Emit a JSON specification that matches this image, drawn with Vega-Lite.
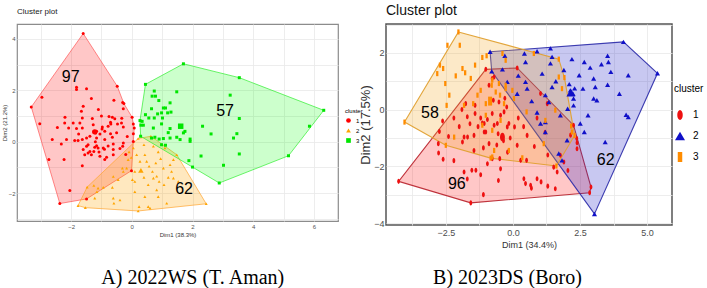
{
  "$schema": "https://vega.github.io/schema/vega-lite/v6.json",
  "background": "white",
  "padding": {"left": 0, "top": 3, "right": 0, "bottom": 0},
  "spacing": -5,
  "config": {
    "font": "Liberation Sans",
    "axis": {"ticks": false, "domain": false, "gridColor": "#e9e9e9", "gridWidth": 0.8, "titleFontWeight": "normal", "minExtent": 0},
    "legend": {"titleFontWeight": "normal"}
  },
  "datasets": {
    "ptsA": [
      {"x":-1.82,"y":2.12,"c":"1"},{"x":-1.82,"y":2.03,"c":"1"},{"x":-1.49,"y":2.06,"c":"1"},{"x":-2.96,"y":1.73,"c":"1"},{"x":-1.33,"y":1.68,"c":"1"},
      {"x":-0.59,"y":1.61,"c":"1"},{"x":-0.30,"y":1.52,"c":"1"},{"x":-0.28,"y":1.28,"c":"1"},{"x":-3.31,"y":1.35,"c":"1"},{"x":-1.60,"y":1.38,"c":"1"},
      {"x":-1.66,"y":1.18,"c":"1"},{"x":-2.20,"y":0.95,"c":"1"},{"x":-1.63,"y":0.92,"c":"1"},{"x":-0.75,"y":0.98,"c":"1"},{"x":-0.64,"y":0.95,"c":"1"},
      {"x":-0.56,"y":0.89,"c":"1"},{"x":-0.33,"y":0.91,"c":"1"},{"x":-1.93,"y":0.73,"c":"1"},{"x":-2.21,"y":0.73,"c":"1"},{"x":-2.08,"y":0.53,"c":"1"},
      {"x":-1.71,"y":0.73,"c":"1"},{"x":-1.27,"y":0.66,"c":"1"},{"x":-1.16,"y":0.40,"c":"1"},{"x":-0.97,"y":0.57,"c":"1"},{"x":-0.98,"y":0.49,"c":"1"},
      {"x":-0.78,"y":0.60,"c":"1"},{"x":-0.69,"y":0.69,"c":"1"},{"x":-0.47,"y":0.69,"c":"1"},{"x":-0.34,"y":0.73,"c":"1"},{"x":-0.28,"y":0.57,"c":"1"},
      {"x":0.01,"y":0.95,"c":"1"},{"x":0.05,"y":0.69,"c":"1"},{"x":-3.03,"y":0.70,"c":"1"},{"x":-1.82,"y":0.51,"c":"1"},{"x":-1.63,"y":0.53,"c":"1"},
      {"x":-1.38,"y":0.21,"c":"1"},{"x":-1.19,"y":0.34,"c":"1"},{"x":-1.05,"y":0.30,"c":"1"},{"x":-0.89,"y":0.40,"c":"1"},{"x":-0.70,"y":0.31,"c":"1"},
      {"x":-0.64,"y":0.17,"c":"1"},{"x":-0.89,"y":0.08,"c":"1"},{"x":-1.16,"y":0.14,"c":"1"},{"x":-1.49,"y":0.14,"c":"1"},{"x":-1.88,"y":0.04,"c":"1"},
      {"x":-1.77,"y":0.04,"c":"1"},{"x":-1.63,"y":0.08,"c":"1"},{"x":-2.15,"y":0.08,"c":"1"},{"x":-2.32,"y":-0.09,"c":"1"},{"x":-2.62,"y":0.08,"c":"1"},
      {"x":-1.44,"y":-0.12,"c":"1"},{"x":-1.49,"y":-0.18,"c":"1"},{"x":-1.22,"y":-0.22,"c":"1"},{"x":-1.16,"y":-0.16,"c":"1"},{"x":-1.11,"y":-0.25,"c":"1"},
      {"x":-0.94,"y":-0.25,"c":"1"},{"x":-0.78,"y":-0.17,"c":"1"},{"x":-0.61,"y":-0.09,"c":"1"},{"x":-0.61,"y":-0.31,"c":"1"},{"x":-0.39,"y":-0.27,"c":"1"},
      {"x":-0.30,"y":-0.18,"c":"1"},{"x":-0.28,"y":-0.05,"c":"1"},{"x":0.05,"y":0.01,"c":"1"},{"x":-1.60,"y":-0.31,"c":"1"},{"x":-1.38,"y":-0.38,"c":"1"},
      {"x":-1.33,"y":-0.51,"c":"1"},{"x":-1.55,"y":-0.51,"c":"1"},{"x":-1.05,"y":-0.57,"c":"1"},{"x":-0.83,"y":-0.61,"c":"1"},{"x":-0.61,"y":-0.51,"c":"1"},
      {"x":-0.89,"y":-0.70,"c":"1"},{"x":-2.73,"y":-0.70,"c":"1"},{"x":-2.23,"y":-0.70,"c":"1"},{"x":-1.63,"y":-0.94,"c":"1"},{"x":-2.04,"y":-1.90,"c":"1"},
      {"x":-1.44,"y":-0.44,"c":"1"},{"x":-1.25,"y":-0.38,"c":"1"},{"x":-1.08,"y":-0.40,"c":"1"},{"x":0.05,"y":0.31,"c":"1"},{"x":0.08,"y":0.53,"c":"1"},
      {"x":-1.60,"y":4.21,"c":"1"},{"x":-0.48,"y":2.16,"c":"1"},{"x":-0.26,"y":1.48,"c":"1"},{"x":-0.01,"y":-1.13,"c":"1"},{"x":-1.49,"y":-2.23,"c":"1"},
      {"x":-2.37,"y":-2.41,"c":"1"},{"x":-1.2,"y":0.0,"c":"1"},{"x":-0.9,"y":-0.3,"c":"1"},{"x":-0.5,"y":0.35,"c":"1"},{"x":-1.3,"y":0.9,"c":"1"},
      {"x":-0.15,"y":0.2,"c":"1"},{"x":-1.0,"y":1.0,"c":"1"},{"x":-2.45,"y":0.55,"c":"1"},{"x":-0.2,"y":-0.5,"c":"1"},{"x":-1.75,"y":0.3,"c":"1"},
      {"x":-0.7,"y":0.75,"c":"1"},{"x":-1.1,"y":1.25,"c":"1"},
      {"x":-1.77,"y":-2.49,"c":"2"},{"x":-1.53,"y":-2.57,"c":"2"},{"x":-1.47,"y":-1.77,"c":"2"},{"x":-1.25,"y":-1.71,"c":"2"},{"x":-1.11,"y":-1.81,"c":"2"},
      {"x":-1.22,"y":-2.20,"c":"2"},{"x":-0.64,"y":-1.78,"c":"2"},{"x":-0.59,"y":-2.40,"c":"2"},{"x":0.05,"y":-0.25,"c":"2"},{"x":-0.12,"y":-0.70,"c":"2"},
      {"x":-0.31,"y":-1.03,"c":"2"},{"x":-0.17,"y":-1.03,"c":"2"},{"x":-0.09,"y":-0.40,"c":"2"},{"x":-0.02,"y":-0.62,"c":"2"},{"x":0.10,"y":-1.16,"c":"2"},
      {"x":0.40,"y":-1.39,"c":"2"},{"x":0.43,"y":-0.51,"c":"2"},{"x":0.49,"y":-0.77,"c":"2"},{"x":0.57,"y":-0.96,"c":"2"},{"x":0.68,"y":-1.16,"c":"2"},
      {"x":0.71,"y":-1.42,"c":"2"},{"x":0.79,"y":-0.83,"c":"2"},{"x":0.82,"y":-1.35,"c":"2"},{"x":0.87,"y":-0.40,"c":"2"},{"x":0.90,"y":-1.55,"c":"2"},
      {"x":0.95,"y":-0.66,"c":"2"},{"x":1.04,"y":-1.03,"c":"2"},{"x":1.06,"y":-1.68,"c":"2"},{"x":1.20,"y":-1.39,"c":"2"},{"x":1.26,"y":-0.90,"c":"2"},
      {"x":1.31,"y":-1.16,"c":"2"},{"x":1.37,"y":-0.70,"c":"2"},{"x":0.82,"y":-1.88,"c":"2"},{"x":0.43,"y":-2.14,"c":"2"},{"x":0.87,"y":-2.14,"c":"2"},
      {"x":0.54,"y":-2.53,"c":"2"},{"x":0.24,"y":-2.53,"c":"2"},{"x":1.15,"y":-2.40,"c":"2"},{"x":1.53,"y":-1.55,"c":"2"},{"x":1.37,"y":-1.42,"c":"2"},
      {"x":-0.39,"y":-2.27,"c":"2"},{"x":-0.61,"y":-2.20,"c":"2"},{"x":0.02,"y":-1.48,"c":"2"},{"x":0.40,"y":-0.12,"c":"2"},{"x":0.71,"y":-0.18,"c":"2"},
      {"x":1.09,"y":-0.25,"c":"2"},{"x":0.16,"y":-0.51,"c":"2"},{"x":0.27,"y":-0.77,"c":"2"},{"x":0.10,"y":-1.55,"c":"2"},{"x":0.54,"y":-1.68,"c":"2"},
      {"x":-0.61,"y":-1.36,"c":"2"},{"x":-0.94,"y":-1.78,"c":"2"},{"x":-1.15,"y":-1.95,"c":"2"},{"x":-0.45,"y":-1.48,"c":"2"},{"x":-0.28,"y":-1.16,"c":"2"},
      {"x":0.60,"y":-2.59,"c":"2"},{"x":0.10,"y":-1.95,"c":"2"},{"x":0.21,"y":-2.70,"c":"2"},{"x":2.45,"y":-2.42,"c":"2"},{"x":1.48,"y":-0.51,"c":"2"},
      {"x":0.63,"y":0.21,"c":"2"},{"x":0.21,"y":0.12,"c":"2"},
      {"x":0.45,"y":2.23,"c":"3"},{"x":0.74,"y":1.97,"c":"3"},{"x":1.48,"y":1.94,"c":"3"},{"x":0.67,"y":1.77,"c":"3"},{"x":0.78,"y":1.77,"c":"3"},
      {"x":0.89,"y":1.60,"c":"3"},{"x":1.26,"y":1.51,"c":"3"},{"x":0.65,"y":1.28,"c":"3"},{"x":1.04,"y":1.31,"c":"3"},{"x":1.11,"y":1.31,"c":"3"},
      {"x":0.98,"y":1.12,"c":"3"},{"x":0.85,"y":1.08,"c":"3"},{"x":1.18,"y":1.12,"c":"3"},{"x":1.29,"y":1.15,"c":"3"},{"x":0.45,"y":1.05,"c":"3"},
      {"x":0.34,"y":0.79,"c":"3"},{"x":0.74,"y":0.92,"c":"3"},{"x":1.01,"y":0.92,"c":"3"},{"x":0.56,"y":0.92,"c":"3"},{"x":0.30,"y":0.64,"c":"3"},
      {"x":0.38,"y":0.64,"c":"3"},{"x":0.71,"y":0.53,"c":"3"},{"x":0.98,"y":0.69,"c":"3"},{"x":1.26,"y":0.51,"c":"3"},{"x":1.75,"y":0.40,"c":"3"},
      {"x":1.70,"y":0.34,"c":"3"},{"x":1.92,"y":0.10,"c":"3"},{"x":1.92,"y":0.01,"c":"3"},{"x":0.90,"y":0.10,"c":"3"},{"x":1.04,"y":0.12,"c":"3"},
      {"x":1.26,"y":0.14,"c":"3"},{"x":1.48,"y":0.17,"c":"3"},{"x":1.59,"y":0.08,"c":"3"},{"x":2.33,"y":0.60,"c":"3"},{"x":2.61,"y":0.30,"c":"3"},
      {"x":2.28,"y":-0.56,"c":"3"},{"x":1.88,"y":-0.74,"c":"3"},{"x":3.02,"y":-0.92,"c":"3"},{"x":3.35,"y":0.14,"c":"3"},{"x":0.98,"y":-0.12,"c":"3"},
      {"x":1.11,"y":-0.14,"c":"3"},{"x":0.65,"y":0.14,"c":"3"},{"x":0.76,"y":0.17,"c":"3"},{"x":3.24,"y":1.81,"c":"3"},{"x":3.54,"y":0.90,"c":"3"},
      {"x":3.46,"y":0.31,"c":"3"},{"x":3.54,"y":-0.48,"c":"3"},{"x":5.85,"y":0.60,"c":"3"},{"x":2.00,"y":-0.99,"c":"3"},{"x":1.70,"y":3.03,"c":"3"},
      {"x":3.54,"y":2.49,"c":"3"},{"x":6.32,"y":1.22,"c":"3"},{"x":5.16,"y":-0.55,"c":"3"},{"x":2.88,"y":-1.61,"c":"3"},{"x":0.29,"y":0.21,"c":"3"},
      {"x":0.27,"y":0.82,"c":"3"},{"x":1.2,"y":0.35,"c":"3"}
    ],
    "hullA": [
      {"x":-1.60,"y":4.21,"c":"1","i":1},{"x":-0.48,"y":2.16,"c":"1","i":2},{"x":-0.26,"y":1.48,"c":"1","i":3},{"x":0.01,"y":0.95,"c":"1","i":4},
      {"x":0.08,"y":0.53,"c":"1","i":5},{"x":0.05,"y":0.01,"c":"1","i":6},{"x":-0.01,"y":-1.13,"c":"1","i":7},{"x":-1.49,"y":-2.23,"c":"1","i":8},
      {"x":-2.37,"y":-2.41,"c":"1","i":9},{"x":-3.31,"y":1.35,"c":"1","i":10},
      {"x":-1.47,"y":-1.77,"c":"2","i":1},{"x":0.21,"y":0.12,"c":"2","i":2},{"x":0.63,"y":0.21,"c":"2","i":3},{"x":1.48,"y":-0.51,"c":"2","i":4},
      {"x":2.45,"y":-2.42,"c":"2","i":5},{"x":0.21,"y":-2.70,"c":"2","i":6},{"x":-1.53,"y":-2.57,"c":"2","i":7},{"x":-1.77,"y":-2.49,"c":"2","i":8},
      {"x":0.45,"y":2.23,"c":"3","i":1},{"x":1.70,"y":3.03,"c":"3","i":2},{"x":3.54,"y":2.49,"c":"3","i":3},{"x":6.32,"y":1.22,"c":"3","i":4},
      {"x":5.16,"y":-0.55,"c":"3","i":5},{"x":2.88,"y":-1.61,"c":"3","i":6},{"x":0.29,"y":0.21,"c":"3","i":7},{"x":0.27,"y":0.82,"c":"3","i":8}
    ],
    "ctrA": [
      {"x":-1.22,"y":0.38,"c":"1"},{"x":0.30,"y":-1.12,"c":"2"},{"x":1.61,"y":0.60,"c":"3"}
    ],
    "lblA": [
      {"x":-2.01,"y":2.51,"t":"97"},{"x":3.07,"y":1.21,"t":"57"},{"x":1.72,"y":-1.84,"t":"62"}
    ],
    "ptsB": [
      {"x":-0.77,"y":1.10,"c":"1"},{"x":-0.89,"y":0.86,"c":"1"},{"x":-2.62,"y":-0.40,"c":"1"},{"x":-1.76,"y":0.21,"c":"1"},{"x":-1.41,"y":0.15,"c":"1"},
      {"x":-1.41,"y":-0.14,"c":"1"},{"x":-1.14,"y":-0.47,"c":"1"},{"x":-1.82,"y":-0.97,"c":"1"},{"x":-1.69,"y":-0.97,"c":"1"},{"x":-1.45,"y":-0.91,"c":"1"},
      {"x":-1.01,"y":-0.79,"c":"1"},{"x":-0.89,"y":-1.20,"c":"1"},{"x":-0.58,"y":-0.49,"c":"1"},{"x":-0.33,"y":-0.08,"c":"1"},{"x":-0.21,"y":-0.61,"c":"1"},
      {"x":-1.88,"y":-1.14,"c":"1"},{"x":-2.77,"y":-1.53,"c":"1"},{"x":-1.45,"y":-1.44,"c":"1"},{"x":-0.77,"y":-1.73,"c":"1"},{"x":-0.49,"y":-1.73,"c":"1"},
      {"x":-1.53,"y":-2.14,"c":"1"},{"x":-1.38,"y":-2.14,"c":"1"},{"x":-2.74,"y":-0.77,"c":"1"},{"x":-2.78,"y":-1.20,"c":"1"},{"x":-2.60,"y":-1.75,"c":"1"},
      {"x":-1.82,"y":-2.20,"c":"1"},{"x":-1.70,"y":-2.45,"c":"1"},{"x":-1.20,"y":-2.30,"c":"1"},{"x":-0.95,"y":-1.91,"c":"1"},{"x":-0.54,"y":-2.50,"c":"1"},
      {"x":0.41,"y":-2.44,"c":"1"},{"x":0.47,"y":-2.61,"c":"1"},{"x":0.66,"y":-2.67,"c":"1"},{"x":0.69,"y":-2.77,"c":"1"},{"x":0.90,"y":-2.44,"c":"1"},
      {"x":-1.10,"y":-3.00,"c":"1"},{"x":1.58,"y":-2.79,"c":"1"},{"x":1.52,"y":-2.03,"c":"1"},{"x":1.65,"y":-2.20,"c":"1"},{"x":2.39,"y":-1.38,"c":"1"},
      {"x":2.39,"y":-1.17,"c":"1"},{"x":1.77,"y":-1.61,"c":"1"},{"x":-0.70,"y":1.15,"c":"1"},{"x":-0.73,"y":0.33,"c":"1"},{"x":-0.52,"y":0.27,"c":"1"},
      {"x":-0.23,"y":0.09,"c":"1"},{"x":-0.77,"y":-0.14,"c":"1"},{"x":-1.07,"y":-0.49,"c":"1"},{"x":-1.07,"y":-0.79,"c":"1"},{"x":-0.46,"y":-0.20,"c":"1"},
      {"x":-0.15,"y":-0.49,"c":"1"},{"x":0.06,"y":-0.61,"c":"1"},{"x":0.53,"y":-0.91,"c":"1"},{"x":0.16,"y":-1.26,"c":"1"},{"x":0.29,"y":-1.79,"c":"1"},
      {"x":0.51,"y":-1.79,"c":"1"},{"x":-0.46,"y":-2.09,"c":"1"},{"x":1.05,"y":-2.55,"c":"1"},{"x":1.30,"y":-2.70,"c":"1"},{"x":1.03,"y":0.57,"c":"1"},
      {"x":1.28,"y":0.21,"c":"1"},{"x":1.90,"y":-1.85,"c":"1"},{"x":2.05,"y":-2.15,"c":"1"},{"x":2.38,"y":-1.02,"c":"1"},{"x":2.15,"y":-0.90,"c":"1"},
      {"x":-1.01,"y":1.42,"c":"1"},{"x":0.16,"y":1.47,"c":"1"},{"x":2.26,"y":-0.55,"c":"1"},{"x":2.91,"y":-2.73,"c":"1"},{"x":2.86,"y":-2.93,"c":"1"},
      {"x":-1.57,"y":-3.29,"c":"1"},{"x":-4.26,"y":-2.53,"c":"1"},{"x":-2.2,"y":-0.3,"c":"1"},{"x":-2.0,"y":-0.6,"c":"1"},{"x":-1.6,"y":-0.5,"c":"1"},
      {"x":-1.3,"y":-0.6,"c":"1"},{"x":-1.2,"y":-0.3,"c":"1"},{"x":-0.95,"y":-0.35,"c":"1"},{"x":-0.7,"y":-0.55,"c":"1"},{"x":-0.55,"y":-0.85,"c":"1"},
      {"x":-0.35,"y":-1.1,"c":"1"},{"x":-0.1,"y":-1.0,"c":"1"},{"x":-1.7,"y":-0.25,"c":"1"},{"x":-2.4,"y":-0.95,"c":"1"},{"x":-1.1,"y":-1.35,"c":"1"},
      {"x":-0.6,"y":-1.25,"c":"1"},{"x":0.2,"y":-0.3,"c":"1"},{"x":0.4,"y":-0.6,"c":"1"},{"x":0.8,"y":-1.3,"c":"1"},{"x":1.2,"y":-0.8,"c":"1"},
      {"x":0.9,"y":-0.3,"c":"1"},{"x":-0.3,"y":0.4,"c":"1"},{"x":-1.9,"y":0.0,"c":"1"},{"x":-0.2,"y":-1.5,"c":"1"},{"x":1.3,"y":-1.6,"c":"1"},
      {"x":-2.2,"y":-1.8,"c":"1"},
      {"x":0.43,"y":1.98,"c":"2"},{"x":0.47,"y":1.68,"c":"2"},{"x":0.90,"y":2.06,"c":"2"},{"x":1.09,"y":1.27,"c":"2"},{"x":1.46,"y":1.86,"c":"2"},
      {"x":1.40,"y":2.16,"c":"2"},{"x":2.20,"y":1.78,"c":"2"},{"x":2.66,"y":1.68,"c":"2"},{"x":2.88,"y":1.48,"c":"2"},{"x":3.53,"y":1.90,"c":"2"},
      {"x":3.56,"y":1.68,"c":"2"},{"x":2.47,"y":1.21,"c":"2"},{"x":3.01,"y":1.10,"c":"2"},{"x":3.65,"y":1.33,"c":"2"},{"x":4.30,"y":1.21,"c":"2"},
      {"x":2.14,"y":0.68,"c":"2"},{"x":2.24,"y":0.56,"c":"2"},{"x":2.61,"y":0.74,"c":"2"},{"x":3.07,"y":0.80,"c":"2"},{"x":3.01,"y":0.39,"c":"2"},
      {"x":3.13,"y":0.33,"c":"2"},{"x":3.53,"y":0.88,"c":"2"},{"x":3.97,"y":0.56,"c":"2"},{"x":4.22,"y":-0.18,"c":"2"},{"x":4.30,"y":-0.26,"c":"2"},
      {"x":3.44,"y":-1.14,"c":"2"},{"x":2.66,"y":-0.79,"c":"2"},{"x":2.51,"y":-0.49,"c":"2"},{"x":2.26,"y":0.15,"c":"2"},{"x":2.04,"y":0.03,"c":"2"},
      {"x":1.77,"y":-0.20,"c":"2"},{"x":1.34,"y":0.27,"c":"2"},{"x":1.21,"y":0.51,"c":"2"},{"x":0.53,"y":0.74,"c":"2"},{"x":-0.39,"y":1.42,"c":"2"},
      {"x":0.16,"y":0.56,"c":"2"},{"x":0.47,"y":0.98,"c":"2"},{"x":2.02,"y":-1.08,"c":"2"},{"x":1.83,"y":-1.79,"c":"2"},{"x":1.71,"y":-1.55,"c":"2"},
      {"x":1.03,"y":-0.49,"c":"2"},{"x":1.21,"y":-0.79,"c":"2"},{"x":2.26,"y":0.39,"c":"2"},{"x":0.2,"y":1.2,"c":"2"},{"x":1.6,"y":1.0,"c":"2"},
      {"x":1.40,"y":1.63,"c":"2"},{"x":1.46,"y":0.80,"c":"2"},{"x":1.21,"y":-0.44,"c":"2"},{"x":0.7,"y":0.3,"c":"2"},{"x":0.9,"y":-0.1,"c":"2"},
      {"x":-0.21,"y":0.98,"c":"2"},{"x":-0.85,"y":2.04,"c":"2"},{"x":4.12,"y":2.39,"c":"2"},{"x":5.39,"y":1.28,"c":"2"},{"x":3.04,"y":-3.68,"c":"2"},
      {"x":-0.79,"y":1.35,"c":"2"},{"x":2.1,"y":0.9,"c":"2"},{"x":2.3,"y":0.75,"c":"2"},{"x":1.9,"y":1.4,"c":"2"},{"x":3.3,"y":1.6,"c":"2"},
      {"x":2.8,"y":-0.2,"c":"2"},{"x":-0.3,"y":1.9,"c":"2"},
      {"x":-2.44,"y":2.27,"c":"3"},{"x":-1.98,"y":2.27,"c":"3"},{"x":-2.72,"y":1.57,"c":"3"},{"x":-2.82,"y":1.27,"c":"3"},{"x":-2.60,"y":1.45,"c":"3"},
      {"x":-2.13,"y":1.19,"c":"3"},{"x":-1.88,"y":1.45,"c":"3"},{"x":-1.78,"y":1.30,"c":"3"},{"x":-1.41,"y":1.57,"c":"3"},{"x":-1.57,"y":1.10,"c":"3"},
      {"x":-1.14,"y":1.84,"c":"3"},{"x":-0.98,"y":1.90,"c":"3"},{"x":-2.52,"y":0.92,"c":"3"},{"x":-2.37,"y":0.51,"c":"3"},{"x":-2.47,"y":0.15,"c":"3"},
      {"x":-1.82,"y":0.15,"c":"3"},{"x":-1.48,"y":0.21,"c":"3"},{"x":-1.32,"y":0.51,"c":"3"},{"x":-1.01,"y":0.21,"c":"3"},{"x":-1.20,"y":0.68,"c":"3"},
      {"x":-0.79,"y":0.86,"c":"3"},{"x":-0.64,"y":0.62,"c":"3"},{"x":-0.48,"y":0.51,"c":"3"},{"x":-0.33,"y":0.21,"c":"3"},{"x":-0.27,"y":0.74,"c":"3"},
      {"x":-1.01,"y":-0.20,"c":"3"},{"x":-1.14,"y":-0.55,"c":"3"},{"x":-0.77,"y":-0.73,"c":"3"},{"x":-0.46,"y":-0.38,"c":"3"},{"x":-2.19,"y":-0.97,"c":"3"},
      {"x":-0.77,"y":-1.67,"c":"3"},{"x":-0.39,"y":1.98,"c":"3"},{"x":-0.27,"y":1.74,"c":"3"},{"x":0.78,"y":1.98,"c":"3"},{"x":-0.77,"y":1.04,"c":"3"},
      {"x":-0.52,"y":0.92,"c":"3"},{"x":-0.27,"y":0.86,"c":"3"},{"x":-0.02,"y":0.68,"c":"3"},{"x":0.04,"y":0.39,"c":"3"},{"x":0.51,"y":-0.08,"c":"3"},
      {"x":1.21,"y":-0.38,"c":"3"},{"x":1.71,"y":1.15,"c":"3"},{"x":1.83,"y":0.74,"c":"3"},{"x":1.58,"y":-0.02,"c":"3"},{"x":-0.70,"y":-1.44,"c":"3"},
      {"x":-0.15,"y":-1.44,"c":"3"},{"x":0.35,"y":-1.7,"c":"3"},{"x":1.15,"y":-1.20,"c":"3"},{"x":2.17,"y":-0.58,"c":"3"},{"x":2.20,"y":-0.79,"c":"3"},
      {"x":-2.03,"y":2.74,"c":"3"},{"x":1.71,"y":1.78,"c":"3"},{"x":1.92,"y":1.13,"c":"3"},{"x":2.30,"y":-0.91,"c":"3"},{"x":1.62,"y":-1.99,"c":"3"},
      {"x":-0.83,"y":-1.71,"c":"3"},{"x":-2.50,"y":-1.26,"c":"3"},{"x":-4.04,"y":-0.44,"c":"3"}
    ],
    "hullB": [
      {"x":-1.01,"y":1.42,"c":"1","i":1},{"x":0.16,"y":1.47,"c":"1","i":2},{"x":2.26,"y":-0.55,"c":"1","i":3},{"x":2.91,"y":-2.73,"c":"1","i":4},
      {"x":2.86,"y":-2.93,"c":"1","i":5},{"x":-1.57,"y":-3.29,"c":"1","i":6},{"x":-4.26,"y":-2.53,"c":"1","i":7},
      {"x":-0.85,"y":2.04,"c":"2","i":1},{"x":4.12,"y":2.39,"c":"2","i":2},{"x":5.39,"y":1.28,"c":"2","i":3},{"x":3.04,"y":-3.68,"c":"2","i":4},
      {"x":-0.79,"y":1.35,"c":"2","i":5},
      {"x":-2.03,"y":2.74,"c":"3","i":1},{"x":1.71,"y":1.78,"c":"3","i":2},{"x":1.92,"y":1.13,"c":"3","i":3},{"x":2.30,"y":-0.91,"c":"3","i":4},
      {"x":1.62,"y":-1.99,"c":"3","i":5},{"x":-0.83,"y":-1.71,"c":"3","i":6},{"x":-2.50,"y":-1.26,"c":"3","i":7},{"x":-4.04,"y":-0.44,"c":"3","i":8}
    ],
    "ctrB": [
      {"x":-0.39,"y":-0.97,"c":"1"},{"x":2.16,"y":0.60,"c":"2"},{"x":-0.85,"y":0.30,"c":"3"}
    ],
    "lblB": [
      {"x":-3.09,"y":-0.12,"t":"58"},{"x":-2.09,"y":-2.61,"t":"96"},{"x":3.46,"y":-1.77,"t":"62"}
    ]
  },
  "hconcat": [
    {
      "title": {"text": "A) 2022WS (T. Aman)", "orient": "bottom", "anchor": "middle", "font": "Liberation Serif", "fontSize": 20, "fontWeight": "normal", "color": "#000000", "offset": 30, "dx": 11},
      "vconcat": [
        {
          "width": 321,
          "height": 197,
          "title": {"text": "Cluster plot", "anchor": "start", "frame": "group", "fontSize": 8, "fontWeight": "normal", "color": "#1a1a1a", "offset": 8},
          "view": {"stroke": "#8c8c8c", "strokeWidth": 1.2},
          "encoding": {
            "x": {"field": "x", "type": "quantitative", "scale": {"domain": [-3.78, 6.79], "nice": false, "zero": false},
                  "axis": {"title": "Dim1 (38.3%)", "values": [-3, -2, -1, 0, 1, 2, 3, 4, 5, 6], "labelExpr": "datum.value % 2 == 0 ? datum.label : ''", "labelFontSize": 6, "titleFontSize": 6, "labelColor": "#555555", "titleColor": "#333333", "labelPadding": 2, "titlePadding": 2}},
            "y": {"field": "y", "type": "quantitative", "scale": {"domain": [-3.09, 4.58], "nice": false, "zero": false},
                  "axis": {"title": "Dim2 (21.2%)", "values": [-3, -2, -1, 0, 1, 2, 3, 4], "labelExpr": "datum.value % 2 == 0 ? datum.label : ''", "labelFontSize": 6, "titleFontSize": 6, "labelColor": "#555555", "titleColor": "#333333", "labelPadding": 2, "titlePadding": 1}}
          },
          "layer": [
            {"data": {"name": "hullA"}, "transform": [{"filter": "datum.c == '1'"}],
             "mark": {"type": "line", "interpolate": "linear-closed", "fill": "#FF0000", "fillOpacity": 0.22, "stroke": "#FF4040", "strokeOpacity": 0.6, "strokeWidth": 1},
             "encoding": {"order": {"field": "i", "type": "quantitative"}}},
            {"data": {"name": "hullA"}, "transform": [{"filter": "datum.c == '2'"}],
             "mark": {"type": "line", "interpolate": "linear-closed", "fill": "#FFA500", "fillOpacity": 0.25, "stroke": "#FFA530", "strokeOpacity": 0.7, "strokeWidth": 1},
             "encoding": {"order": {"field": "i", "type": "quantitative"}}},
            {"data": {"name": "hullA"}, "transform": [{"filter": "datum.c == '3'"}],
             "mark": {"type": "line", "interpolate": "linear-closed", "fill": "#00FF00", "fillOpacity": 0.2, "stroke": "#30EE30", "strokeOpacity": 0.7, "strokeWidth": 1},
             "encoding": {"order": {"field": "i", "type": "quantitative"}}},
            {"data": {"name": "ptsA"},
             "mark": {"type": "point", "filled": true, "size": 9, "opacity": 1},
             "encoding": {
               "color": {"field": "c", "type": "nominal", "scale": {"domain": ["1", "2", "3"], "range": ["#FF0000", "#FFA500", "#00E600"]},
                         "legend": {"title": "cluster", "orient": "none", "legendX": 328, "legendY": 84, "titleFontSize": 6, "labelFontSize": 6, "symbolSize": 22, "rowPadding": 3, "titlePadding": 3, "labelOffset": 4}},
               "shape": {"field": "c", "type": "nominal", "scale": {"domain": ["1", "2", "3"], "range": ["circle", "triangle-up", "square"]},
                         "legend": {"title": "cluster", "orient": "none", "legendX": 328, "legendY": 84, "titleFontSize": 6, "labelFontSize": 6, "symbolSize": 22, "rowPadding": 3, "titlePadding": 3, "labelOffset": 4}}
             }},
            {"data": {"name": "ctrA"},
             "mark": {"type": "point", "filled": true, "size": 30, "opacity": 1},
             "encoding": {
               "color": {"field": "c", "type": "nominal", "scale": {"domain": ["1", "2", "3"], "range": ["#FF0000", "#FFA500", "#00E600"]}},
               "shape": {"field": "c", "type": "nominal", "scale": {"domain": ["1", "2", "3"], "range": ["circle", "triangle-up", "square"]}}
             }},
            {"data": {"name": "lblA"},
             "mark": {"type": "text", "fontSize": 16, "color": "#000000", "font": "Liberation Sans"},
             "encoding": {"text": {"field": "t", "type": "nominal"}}}
          ]
        }
      ]
    },
    {
      "title": {"text": "B) 2023DS (Boro)", "orient": "bottom", "anchor": "middle", "font": "Liberation Serif", "fontSize": 20, "fontWeight": "normal", "color": "#000000", "offset": 18, "dx": -24},
      "vconcat": [
        {
          "width": 286,
          "height": 201,
          "title": {"text": "Cluster plot", "anchor": "start", "frame": "group", "fontSize": 14, "fontWeight": "normal", "color": "#111111", "offset": 6},
          "view": {"stroke": "#555555", "strokeWidth": 1.5},
          "encoding": {
            "x": {"field": "x", "type": "quantitative", "scale": {"domain": [-4.73, 5.93], "nice": false, "zero": false},
                  "axis": {"title": "Dim1 (34.4%)", "values": [-3.75, -2.5, -1.25, 0, 1.25, 2.5, 3.75, 5], "labelExpr": "abs(datum.value % 2.5) < 0.01 ? format(datum.value, '.1f') : ''", "labelFontSize": 9, "titleFontSize": 9, "labelColor": "#4d4d4d", "titleColor": "#333333", "labelPadding": 3, "titlePadding": 3}},
            "y": {"field": "y", "type": "quantitative", "scale": {"domain": [-4.07, 3.02], "nice": false, "zero": false},
                  "axis": {"title": "Dim2 (17.5%)", "values": [-4, -3, -2, -1, 0, 1, 2, 3], "labelExpr": "datum.value % 2 == 0 ? datum.label : ''", "labelFontSize": 9, "titleFontSize": 13, "labelColor": "#4d4d4d", "titleColor": "#333333", "labelPadding": 2, "titlePadding": 1}}
          },
          "layer": [
            {"data": {"name": "hullB"}, "transform": [{"filter": "datum.c == '1'"}],
             "mark": {"type": "line", "interpolate": "linear-closed", "fill": "#FF2020", "fillOpacity": 0.25, "stroke": "#B8202A", "strokeOpacity": 0.9, "strokeWidth": 1.1},
             "encoding": {"order": {"field": "i", "type": "quantitative"}}},
            {"data": {"name": "hullB"}, "transform": [{"filter": "datum.c == '2'"}],
             "mark": {"type": "line", "interpolate": "linear-closed", "fill": "#2323C8", "fillOpacity": 0.25, "stroke": "#2A2AA8", "strokeOpacity": 0.9, "strokeWidth": 1.1},
             "encoding": {"order": {"field": "i", "type": "quantitative"}}},
            {"data": {"name": "hullB"}, "transform": [{"filter": "datum.c == '3'"}],
             "mark": {"type": "line", "interpolate": "linear-closed", "fill": "#F5A623", "fillOpacity": 0.25, "stroke": "#E0A030", "strokeOpacity": 0.95, "strokeWidth": 1.1},
             "encoding": {"order": {"field": "i", "type": "quantitative"}}},
            {"data": {"name": "ptsB"},
             "mark": {"type": "point", "filled": true, "size": 26, "opacity": 1},
             "encoding": {
               "color": {"field": "c", "type": "nominal", "scale": {"domain": ["1", "2", "3"], "range": ["#EE1010", "#1010C8", "#FF8C00"]},
                         "legend": {"title": "cluster", "orient": "none", "legendX": 288, "legendY": 60, "titleFontSize": 10, "labelFontSize": 10, "symbolSize": 100, "rowPadding": 10, "titlePadding": 15, "labelOffset": 7}},
               "shape": {"field": "c", "type": "nominal", "scale": {"domain": ["1", "2", "3"], "range": ["M0,-1A0.55,1,0,1,1,0,1A0.55,1,0,1,1,0,-1Z", "triangle-up", "M-0.45,-1H0.45V1H-0.45Z"]},
                         "legend": {"title": "cluster", "orient": "none", "legendX": 288, "legendY": 60, "titleFontSize": 10, "labelFontSize": 10, "symbolSize": 100, "rowPadding": 10, "titlePadding": 15, "labelOffset": 7}}
             }},
            {"data": {"name": "ctrB"},
             "mark": {"type": "point", "filled": true, "size": 80, "opacity": 1},
             "encoding": {
               "color": {"field": "c", "type": "nominal", "scale": {"domain": ["1", "2", "3"], "range": ["#EE1010", "#1010C8", "#FF8C00"]}},
               "shape": {"field": "c", "type": "nominal", "scale": {"domain": ["1", "2", "3"], "range": ["M0,-1A0.55,1,0,1,1,0,1A0.55,1,0,1,1,0,-1Z", "triangle-up", "M-0.45,-1H0.45V1H-0.45Z"]}}
             }},
            {"data": {"name": "lblB"},
             "mark": {"type": "text", "fontSize": 16, "color": "#000000", "font": "Liberation Sans"},
             "encoding": {"text": {"field": "t", "type": "nominal"}}}
          ]
        }
      ]
    }
  ],
  "resolve": {"scale": {"x": "independent", "y": "independent", "color": "independent", "shape": "independent"}}
}
